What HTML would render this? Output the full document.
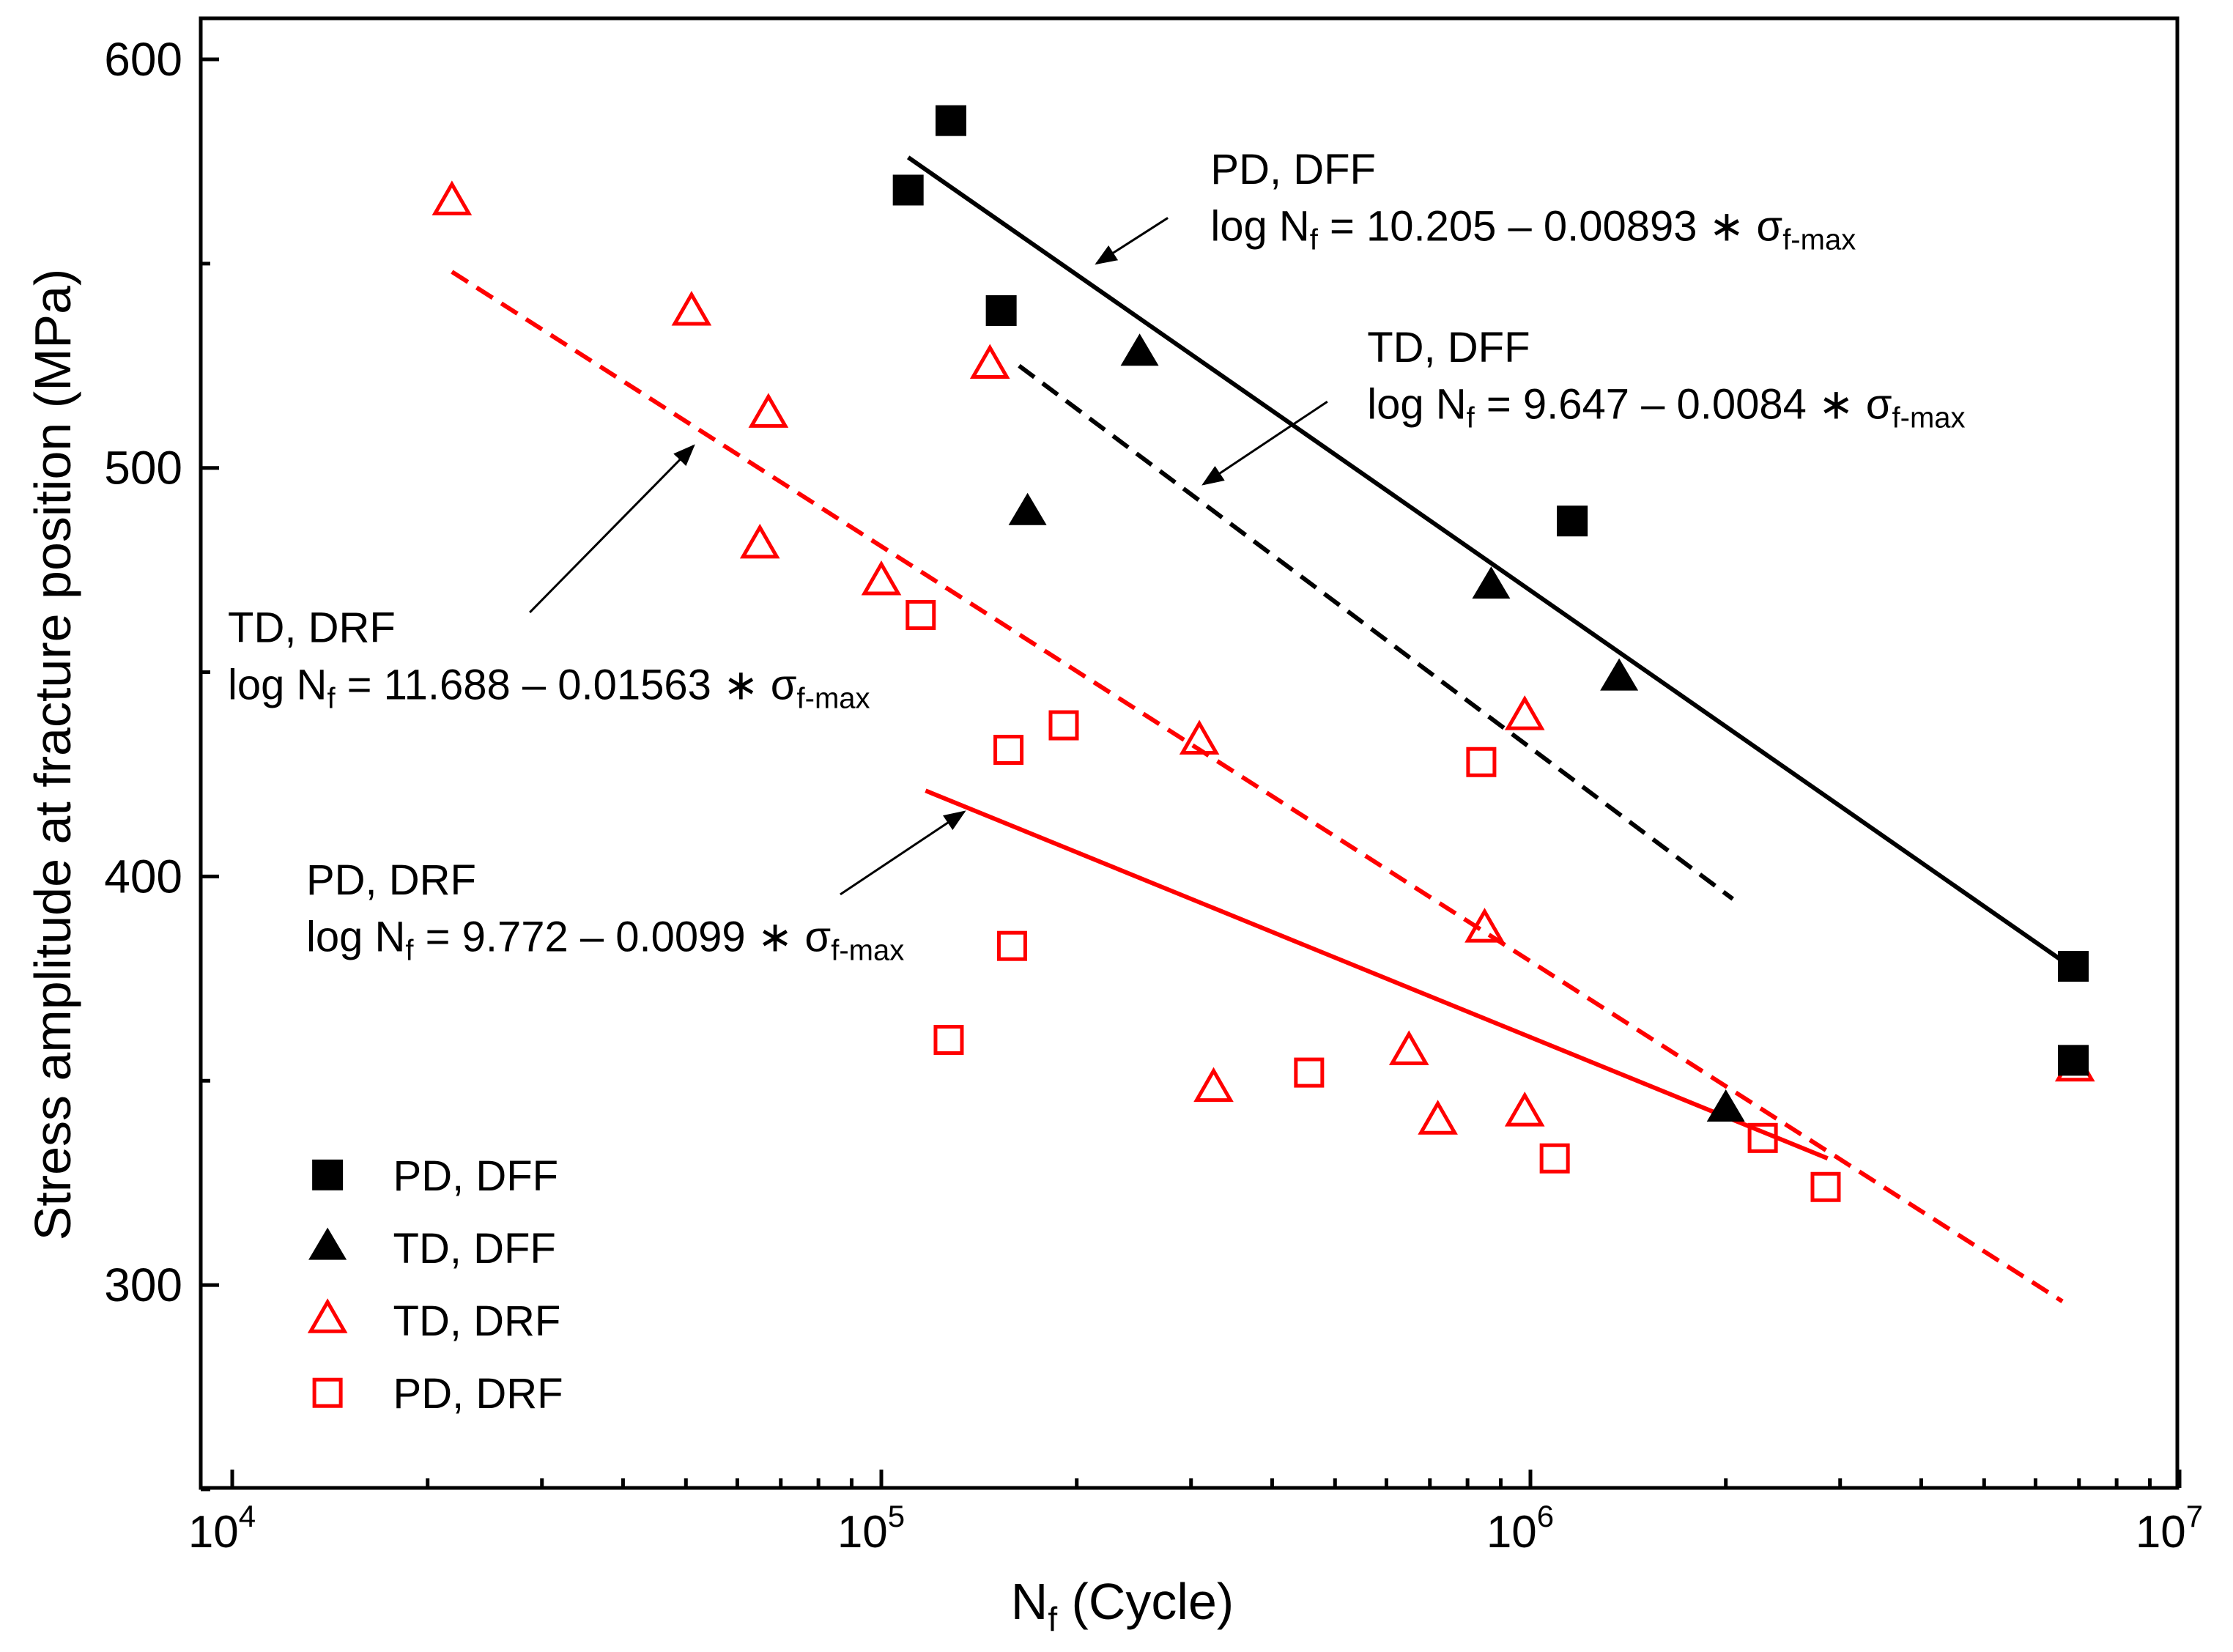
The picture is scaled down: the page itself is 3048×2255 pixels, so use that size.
<!DOCTYPE html>
<html><head><meta charset="utf-8"><style>
body{margin:0;background:#fff}
svg{display:block;font-family:"Liberation Sans",Arial,sans-serif}
</style></head><body>
<svg id="c" width="3048" height="2255" viewBox="0 0 3048 2255"></svg>
<script>
const xTicks=[4,5,6,7];
const yTicks=[300,400,500,600];
const pdDffN=[1.28e5,1.10e5,1.53e5,1.16e6,6.86e6,6.86e6];
const pdDffS=[585,568,538.5,487,378,355];
const tdDffN=[2.5e5,1.68e5,8.7e5,1.37e6,2.0e6];
const tdDffS=[528,489,471,448.5,343];
const tdDrfN=[2.18e4,5.1e4,6.7e4,6.5e4,1.0e5,1.47e5,3.09e5,9.8e5,8.5e5,6.5e5,3.25e5,7.2e5,9.8e5,6.9e6];
const tdDrfS=[565,538,513,481,472,525,433,439,387,357,348,340,342,353];
const pdDrfN=[1.15e5,1.57e5,1.91e5,1.59e5,1.27e5,4.56e5,8.4e5,1.09e6,2.28e6,2.85e6];
const pdDrfS=[464,431,437,383,360,352,428,331,336,324];
const fitPdDffN=[1.10e5,6.86e6], fitPdDffS=[576,377.5];
const fitTdDffN=[1.63e5,2.05e6], fitTdDffS=[525,394.5];
const fitTdDrfN=[2.18e4,6.6e6], fitTdDrfS=[548,296];
const fitPdDrfN=[1.17e5,2.87e6], fitPdDrfS=[421,331];

const svg=document.getElementById('c');
const NS='http://www.w3.org/2000/svg';
const X0=274,X1=2972,Y0=25,Y1=2031;
const xs=n=>317+(Math.log10(n)-4)*886;
const ys=v=>81+(600-v)*5.577;
function mk(tag,a,parent){const e=document.createElementNS(NS,tag);for(const k in a)e.setAttribute(k,a[k]);(parent||svg).appendChild(e);return e;}

const frame=mk('rect',{x:X0,y:Y0,width:X1-X0,height:Y1-Y0,fill:'none',stroke:'#000','stroke-width':5});



xTicks.forEach(d=>{
  const x=xs(Math.pow(10,d));
  const t=mk('line',{x1:x,x2:x,y1:Y1,y2:Y1-25,stroke:'#000','stroke-width':5});
  
  
  const l=mk('text',{x:x-14,y:2112,'font-size':62,'text-anchor':'middle'});
  
  
  l.innerHTML='10<tspan dy="-28" font-size="42">'+d+'</tspan>';
  if(d<7)for(let m=2;m<=9;m++){
    const xm=xs(m*Math.pow(10,d));
    const mt=mk('line',{x1:xm,x2:xm,y1:Y1,y2:Y1-13,stroke:'#000','stroke-width':5});
    
    
  }
});
yTicks.forEach(v=>{
  const y=ys(v);
  const t=mk('line',{x1:X0,x2:X0+25,y1:y,y2:y,stroke:'#000','stroke-width':5});
  
  
  const l=mk('text',{x:249,y:y+22,'font-size':64,'text-anchor':'end'});
  
  
  l.textContent=v;
});
[250,350,450,550].forEach(v=>{
  const y=ys(v);
  const t=mk('line',{x1:X0,x2:X0+13,y1:y,y2:y,stroke:'#000','stroke-width':5});
  
  
});

const yt=mk('text',{x:0,y:0,'font-size':70,'text-anchor':'middle',transform:'translate(96,1030) rotate(-90)'});


yt.textContent='Stress amplitude at fracture position (MPa)';
const xt=mk('text',{x:1532,y:2210,'font-size':70,'text-anchor':'middle'});


xt.innerHTML='N<tspan dy="16" font-size="46">f</tspan><tspan dy="-16"> (Cycle)</tspan>';

function fit(N,S,color,dash,name){
  const l=mk('line',{x1:xs(N[0]),y1:ys(S[0]),x2:xs(N[1]),y2:ys(S[1]),stroke:color,'stroke-width':6,'stroke-dasharray':dash?'26,14':'none'});
  
  
}
fit(fitPdDffN,fitPdDffS,'#000',false,'fit-line-pd-dff');
fit(fitTdDffN,fitTdDffS,'#000',true,'fit-line-td-dff');
fit(fitTdDrfN,fitTdDrfS,'#f00',true,'fit-line-td-drf');
fit(fitPdDrfN,fitPdDrfS,'#f00',false,'fit-line-pd-drf');

function square(cx,cy,filled,color){
  const s=filled?42:36;
  return mk('rect',{x:cx-s/2,y:cy-s/2,width:s,height:s,fill:filled?color:'none',stroke:color,'stroke-width':filled?0:5});
}
function tri(cx,cy,filled,color){
  const w=filled?52:46,h=filled?44:40;
  return mk('polygon',{points:`${cx},${cy-h*0.62} ${cx-w/2},${cy+h*0.38} ${cx+w/2},${cy+h*0.38}`,fill:filled?color:'none',stroke:color,'stroke-width':filled?0:5,'stroke-linejoin':'miter'});
}
function series(N,S,fn,filled,color,name){
  N.forEach((n,i)=>{
    const e=fn(xs(n),ys(S[i]),filled,color);
    
    
  });
}
series(pdDrfN,pdDrfS,square,false,'#f00','point-pd-drf');
series(tdDrfN,tdDrfS,tri,false,'#f00','point-td-drf');
series(pdDffN,pdDffS,square,true,'#000','point-pd-dff');
series(tdDffN,tdDffS,tri,true,'#000','point-td-dff');

mk('defs',{}).innerHTML='<marker id="ah" markerWidth="30" markerHeight="24" refX="9" refY="4" orient="auto" markerUnits="userSpaceOnUse" viewBox="0 0 10 8"><path d="M0,0 L10,4 L0,8 z" fill="#000"/></marker>';
[[820,153,770,185,'arrow-pd-dff'],[932,282,845,340,'arrow-td-dff'],[372,430,487,313,'arrow-td-drf'],[590,628,677,570,'arrow-pd-drf']].forEach(a=>{
  const k=1.944;
  const l=mk('line',{x1:a[0]*k,y1:a[1]*k,x2:a[2]*k,y2:a[3]*k,stroke:'#000','stroke-width':3});
  l.setAttribute('marker-end','url(#ah)');
  
  
});

function ann(x,y,title,eq,name){
  const k=1.944;
  const t=mk('text',{x:x*k,y:y*k,'font-size':58});
  
  
  t.textContent=title;
  const e=mk('text',{x:x*k,y:(y+40)*k,'font-size':58});
  
  
  e.innerHTML='log N<tspan dy="12" font-size="40">f</tspan><tspan dy="-12"> = '+eq+' ∗ σ</tspan><tspan dy="12" font-size="40">f-max</tspan>';
}
ann(850,129,'PD, DFF','10.205 – 0.00893','annotation-pd-dff');
ann(960,254,'TD, DFF','9.647 – 0.0084','annotation-td-dff');
ann(160,451,'TD, DRF','11.688 – 0.01563','annotation-td-drf');
ann(215,628,'PD, DRF','9.772 – 0.0099','annotation-pd-drf');

const leg=[['PD, DFF',square,true,'#000'],['TD, DFF',tri,true,'#000'],['TD, DRF',tri,false,'#f00'],['PD, DRF',square,false,'#f00']];
leg.forEach((L,i)=>{
  const y=(825+i*51)*1.944;
  const m=L[1](230*1.944,y,L[2],L[3]);
  
  
  const t=mk('text',{x:276*1.944,y:y+21,'font-size':58});
  
  
  t.textContent=L[0];
});
</script>
</body></html>
